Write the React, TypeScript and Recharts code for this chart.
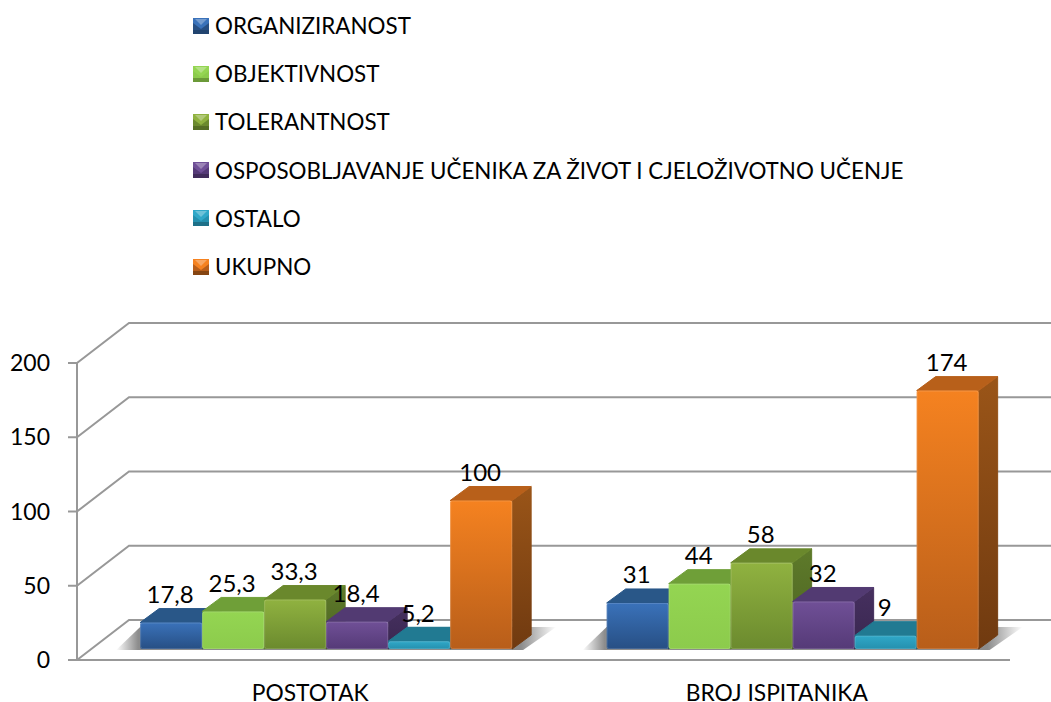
import { BarChart, Bar, XAxis, YAxis, CartesianGrid, Legend, LabelList } from 'recharts'

const categories = ['POSTOTAK', 'BROJ ISPITANIKA']
const organiziranost = [17.8, 31]
const objektivnost = [25.3, 44]
const tolerantnost = [33.3, 58]
const osposobljavanje = [18.4, 32]
const ostalo = [5.2, 9]
const ukupno = [100, 174]
const yTicks = [0, 50, 100, 150, 200]

const data = categories.map((name, i) => ({
  name,
  organiziranost: organiziranost[i],
  objektivnost: objektivnost[i],
  tolerantnost: tolerantnost[i],
  osposobljavanje: osposobljavanje[i],
  ostalo: ostalo[i],
  ukupno: ukupno[i],
}))

const FONT = 'Lato, sans-serif'
const GRID = '#989898'

// Depth of the fake 3D box: walls and bars
const WALL_DX = 52
const WALL_DY = 40
const BAR_DX = 19
const BAR_DY = 14
// bars stand a bit inside the floor
const SHIFT_X = 16.5
const SHIFT_Y = 11

interface SeriesStyle {
  key: string
  name: string
  fill: string
  light: string
  dark: string
  top: string
  sideLight: string
  sideDark: string
}

const seriesStyles: SeriesStyle[] = [
  { key: 'organiziranost', name: 'ORGANIZIRANOST', fill: '#2f609f', light: '#3a72ba', dark: '#274f84', top: '#295788', sideLight: '#27527f', sideDark: '#1f4066' },
  { key: 'objektivnost', name: 'OBJEKTIVNOST', fill: '#92d050', light: '#94d552', dark: '#8ccb4c', top: '#6f9f38', sideLight: '#6a9836', sideDark: '#5c8530' },
  { key: 'tolerantnost', name: 'TOLERANTNOST', fill: '#7f9f3a', light: '#90b240', dark: '#6b8a2e', top: '#6a882c', sideLight: '#5e7a2a', sideDark: '#4c6322' },
  { key: 'osposobljavanje', name: 'OSPOSOBLJAVANJE UČENIKA ZA ŽIVOT I CJELOŽIVOTNO UČENJE', fill: '#624589', light: '#705097', dark: '#553a77', top: '#523a72', sideLight: '#46305f', sideDark: '#392750' },
  { key: 'ostalo', name: 'OSTALO', fill: '#2a9dbd', light: '#30a8c8', dark: '#2590ae', top: '#217a92', sideLight: '#1f7088', sideDark: '#1b6277' },
  { key: 'ukupno', name: 'UKUPNO', fill: '#dc7420', light: '#f58220', dark: '#b85e1a', top: '#b8601a', sideLight: '#9a5518', sideDark: '#703a10' },
]

function formatValue(v: number): string {
  return String(v).replace('.', ',')
}

function WallLine(props: any) {
  const { x1, y1, x2 } = props
  const bx = x1 + WALL_DX
  const by = y1 - WALL_DY
  return (
    <polyline
      key={`wall-${y1}`}
      points={`${x1},${y1} ${bx},${by} ${x2 + WALL_DX},${by}`}
      fill="none"
      stroke={GRID}
      strokeWidth={2}
    />
  )
}

function Box(props: any) {
  const { x, y, width, height, style, first } = props
  const s: SeriesStyle = style
  const fx = x + SHIFT_X
  const fy = y - SHIFT_Y
  const base = fy + height
  return (
    <g>
      {first && (
        // floor shadow for the whole group, drawn under the first bar
        <polygon
          points={`${fx - 24},${base + 1} ${fx},${base - 22} ${fx + width * 6 + 44},${base - 22} ${fx + width * 6 + 11},${base + 1}`}
          fill="url(#floorShadow)"
        />
      )}
      <polygon
        points={`${fx + width},${fy} ${fx + width + BAR_DX},${fy - BAR_DY} ${fx + width + BAR_DX},${base - BAR_DY} ${fx + width},${base}`}
        fill={`url(#side-${s.key})`}
        stroke={`url(#side-${s.key})`}
        strokeWidth={1}
        strokeLinejoin="round"
      />
      <polygon
        points={`${fx},${fy} ${fx + BAR_DX},${fy - BAR_DY} ${fx + width + BAR_DX},${fy - BAR_DY} ${fx + width},${fy}`}
        fill={s.top}
        stroke={s.top}
        strokeWidth={1}
        strokeLinejoin="round"
      />
      <rect x={fx} y={fy} width={width} height={height} rx={2} fill={`url(#front-${s.key})`} />
      <rect x={fx + 0.5} y={fy + 0.5} width={width - 1} height={height - 1} rx={2} fill="none" stroke="#ffffff" strokeOpacity={0.14} />
    </g>
  )
}

function ValueLabel(props: any) {
  const { x, y, width, value } = props
  return (
    <text
      x={x + width / 2 + SHIFT_X - 1}
      y={y - SHIFT_Y - BAR_DY - 15}
      textAnchor="middle"
      dominantBaseline="central"
      fontFamily={FONT}
      fontSize={24}
      fill="#000"
    >
      {formatValue(value)}
    </text>
  )
}

function Swatch({ style }: { style: SeriesStyle }) {
  return (
    <svg width={16} height={16} style={{ display: 'block', flex: 'none' }}>
      <rect width={16} height={16} fill={style.dark} />
      <polygon points="0,0 16,0 16,5 8,11 0,5" fill={style.light} />
      <polygon points="2,1 14,1 8,7" fill="#ffffff" fillOpacity={0.3} />
      <rect x={0} y={12} width={16} height={4} fill={style.sideDark} fillOpacity={0.7} />
    </svg>
  )
}

function LegendList({ payload }: any) {
  return (
    <div>
      {(payload ?? []).map((entry: any) => {
        const s = seriesStyles.find((st) => st.name === entry.value) as SeriesStyle
        return (
          <div key={entry.value} style={{ display: 'flex', alignItems: 'center', height: 48.2, whiteSpace: 'nowrap' }}>
            <Swatch style={s} />
            <span style={{ marginLeft: 6, fontFamily: FONT, fontSize: 22.4, color: '#000' }}>{entry.value}</span>
          </div>
        )
      })}
    </div>
  )
}

export default function App() {
  return (
    <div style={{ position: 'absolute', left: 0, top: 0, width: 1051, height: 702, background: '#fff' }}>
      <BarChart
        width={1051}
        height={702}
        data={data}
        margin={{ top: 363, right: 41, bottom: 0, left: 0 }}
        barCategoryGap="10%"
        barGap={0}
      >
        <defs>
          <linearGradient id="floorShadow" x1="0" y1="0" x2="1" y2="0">
            <stop offset="0" stopColor="#ffffff" />
            <stop offset="0.05" stopColor="#8c8c8c" />
            <stop offset="0.92" stopColor="#8c8c8c" />
            <stop offset="1" stopColor="#ffffff" />
          </linearGradient>
          {seriesStyles.map((s) => (
            <linearGradient key={s.key} id={`front-${s.key}`} x1="0" y1="0" x2="0" y2="1">
              <stop offset="0" stopColor={s.light} />
              <stop offset="1" stopColor={s.dark} />
            </linearGradient>
          ))}
          {seriesStyles.map((s) => (
            <linearGradient key={s.key} id={`side-${s.key}`} x1="0" y1="0" x2="0" y2="1">
              <stop offset="0" stopColor={s.sideLight} />
              <stop offset="1" stopColor={s.sideDark} />
            </linearGradient>
          ))}
        </defs>
        <CartesianGrid vertical={false} horizontal={WallLine} />
        <XAxis
          dataKey="name"
          height={42}
          axisLine={{ stroke: GRID, strokeWidth: 2 }}
          tickLine={false}
          tickMargin={19}
          tick={{ fontFamily: FONT, fontSize: 22.8, fill: '#000' }}
        />
        <YAxis
          width={77}
          domain={[0, 200]}
          ticks={yTicks}
          axisLine={{ stroke: GRID, strokeWidth: 2 }}
          tickLine={{ stroke: GRID, strokeWidth: 2 }}
          tickSize={9}
          tickMargin={18}
          tick={{ fontFamily: FONT, fontSize: 23, fill: '#000' }}
        />
        {/* vertical + center + middle keeps the legend from reserving plot space */}
        <Legend
          layout="vertical"
          align="center"
          verticalAlign="middle"
          itemSorter={null}
          wrapperStyle={{ left: 193, top: 1.5, width: 800 }}
          content={LegendList}
        />
        {seriesStyles.map((s, i) => (
          <Bar
            key={s.key}
            dataKey={s.key}
            name={s.name}
            fill={s.fill}
            isAnimationActive={false}
            shape={(p: any) => <Box {...p} style={s} first={i === 0} />}
          >
            <LabelList dataKey={s.key} content={ValueLabel} />
          </Bar>
        ))}
      </BarChart>
    </div>
  )
}
